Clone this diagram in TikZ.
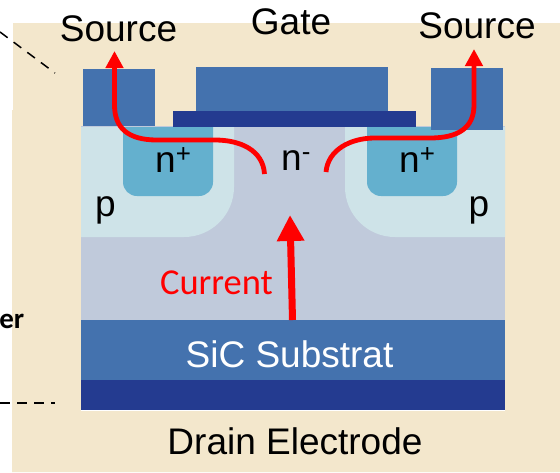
\documentclass[tikz,border=0pt]{standalone}
\usepackage{fontspec}
\setmainfont{Liberation Sans}
\newfontfamily\carlito{Carlito}
\usetikzlibrary{arrows.meta}
\definecolor{cream}{HTML}{F3E7CC}
\definecolor{metal}{HTML}{4472AE}
\definecolor{oxide}{HTML}{243B90}
\definecolor{drift}{HTML}{C0CADB}
\definecolor{pwell}{HTML}{CEE3E8}
\definecolor{nplus}{HTML}{64B0CE}
\tikzset{
  lbl/.style={anchor=base,inner sep=0pt,font=\fontsize{37}{37}\selectfont,text=black},
  flow/.style={draw=red,line width=4.8pt,-{Triangle[length=17pt,width=17pt]}},
  guide/.style={draw=black,line width=1.5pt,dash pattern=on 9.5pt off 7.5pt}
}
\begin{document}
\begin{tikzpicture}[x=1pt,y=-1pt]
\useasboundingbox (0,0) rectangle (560,472);
\fill[white] (0,0) rectangle (560,472);
\fill[cream] (13,23) -- (560,23) -- (560,472) -- (12,472) -- (12,110) -- (13,110) -- cycle;
% drift and substrate layers
\fill[white] (81,320) rectangle (505,411);
\fill[drift] (81,126) rectangle (505,320);
\fill[metal] (81,320) rectangle (505,380);
\fill[oxide] (81,380) rectangle (505,410);
% p wells
\fill[pwell] (81,127) -- (234,127) -- (234,187) arc[start angle=0,end angle=90,radius=50] -- (81,237) -- cycle;
\fill[pwell] (505,127) -- (345,127) -- (345,187) arc[start angle=180,end angle=90,radius=50] -- (505,237) -- cycle;
% n+ regions
\fill[nplus] (123,127) -- (213,127) -- (213,182) arc[start angle=0,end angle=90,radius=14] -- (137,196) arc[start angle=90,end angle=180,radius=14] -- cycle;
\fill[nplus] (367,127) -- (457,127) -- (457,182) arc[start angle=0,end angle=90,radius=14] -- (381,196) arc[start angle=90,end angle=180,radius=14] -- cycle;
% electrodes
\fill[metal] (83,69) rectangle (155,126);
\fill[metal] (431,68) rectangle (503,130);
\fill[metal] (196,67) rectangle (388,111);
\fill[oxide] (173,111) rectangle (416,127);
% guides
\coordinate (g1a) at (0,32);
\coordinate (g1b) at (55,73);
\coordinate (g2a) at (0,403);
\coordinate (g2b) at (55,403);
\draw[guide] (g1a) -- (g1b);
\draw[guide] (g2a) -- (g2b);
% labels
\node[lbl] (srcL) at (118.5,41) {Source};
\node[lbl] (srcR) at (477,38) {Source};
\node[lbl] (gate) at (291,34) {Gate};
\node[lbl,anchor=base west] (nL) at (155,172) {n\textsuperscript{+}};
\node[lbl,anchor=base west] (nR) at (399,172) {n\textsuperscript{+}};
\node[lbl,anchor=base west] (nM) at (281,170) {n\textsuperscript{-}};
\node[lbl] (pL) at (105.5,216) {p};
\node[lbl] (pR) at (479,216) {p};
\node[lbl,text=white] (sub) at (289.5,367) {SiC Substrat};
\node[lbl] (drain) at (295,454) {Drain Electrode};
\node[anchor=base,inner sep=0pt,text=red,font=\carlito\fontsize{36.5}{37}\selectfont] (cur) at (216.5,294) {Current};
\node[anchor=base east,inner sep=0pt,font=\carlito\bfseries\fontsize{29}{29}\selectfont] (layer) at (24.5,328) {er};
% current paths
\coordinate (la) at (264.5,174);
\coordinate (lb) at (114.5,51);
\coordinate (ra) at (326,172);
\coordinate (rb) at (474,49);
\coordinate (ca) at (292.5,320);
\coordinate (cb) at (290,215);
\draw[flow] (la) .. controls (263,150) and (240,140) .. (215,140) -- (157,140) .. controls (128,140) and (114.5,128) .. (114.5,105) -- (lb);
\draw[flow] (ra) .. controls (328,150) and (350,138) .. (375,138) -- (430,138) .. controls (458,138) and (474,128) .. (474,105) -- (rb);
\draw[draw=red,line width=7pt,-{Triangle[length=26pt,width=26pt]}] (ca) -- (cb);
\end{tikzpicture}
\end{document}
